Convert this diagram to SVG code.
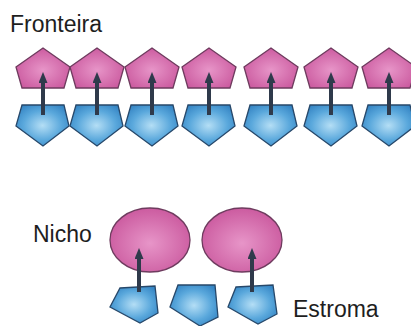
<svg xmlns="http://www.w3.org/2000/svg" width="411" height="326" viewBox="0 0 411 326">
<defs>
<radialGradient id="gPink" cx="0.5" cy="0.55" r="0.6">
<stop offset="0" stop-color="#e795c8"/>
<stop offset="1" stop-color="#c9569c"/>
</radialGradient>
<radialGradient id="gBlue" cx="0.5" cy="0.5" r="0.6">
<stop offset="0" stop-color="#b4def5"/>
<stop offset="0.6" stop-color="#5aa8dc"/>
<stop offset="1" stop-color="#3585c4"/>
</radialGradient>
<marker id="ah" viewBox="0 0 11 9" markerWidth="11" markerHeight="9" refX="3" refY="4.5" orient="auto" markerUnits="userSpaceOnUse">
<path d="M0,0 L11,4.5 L0,9 z" fill="#2f3a4b"/>
</marker>
<polygon id="pp" points="0,48 -27,67 -21,88 21,88 27,67"/>
<polygon id="bp" points="-21,105 21,105 26,126 0,146 -27,126"/>
</defs>
<style>
.pink{fill:url(#gPink);stroke:#6e3b5e;stroke-width:1.3}
.blue{fill:url(#gBlue);stroke:#27486a;stroke-width:1.3}
.lbl{font-family:"Liberation Sans",Arial,sans-serif;font-size:23px;fill:#1e1e1e}
.arr{stroke:#2f3a4b;stroke-width:4;fill:none;marker-end:url(#ah)}
</style>
<rect width="411" height="326" fill="#ffffff"/>
<text class="lbl" x="10" y="32">Fronteira</text>
<text class="lbl" x="33" y="242">Nicho</text>
<text class="lbl" x="293" y="317">Estroma</text>
<g id="f1p"><use href="#pp" class="pink" x="43"/></g>
<g id="f2p"><use href="#pp" class="pink" x="97"/></g>
<g id="f3p"><use href="#pp" class="pink" x="152"/></g>
<g id="f4p"><use href="#pp" class="pink" x="209"/></g>
<g id="f5p"><use href="#pp" class="pink" x="271"/></g>
<g id="f6p"><use href="#pp" class="pink" x="331"/></g>
<g id="f7p"><use href="#pp" class="pink" x="389"/></g>
<g id="f1b"><use href="#bp" class="blue" x="43"/></g>
<g id="f2b"><use href="#bp" class="blue" x="97"/></g>
<g id="f3b"><use href="#bp" class="blue" x="152"/></g>
<g id="f4b"><use href="#bp" class="blue" x="209"/></g>
<g id="f5b"><use href="#bp" class="blue" x="271"/></g>
<g id="f6b"><use href="#bp" class="blue" x="331"/></g>
<g id="f7b"><use href="#bp" class="blue" x="389"/></g>
<g id="n1"><ellipse class="pink" cx="150" cy="240" rx="40" ry="32"/></g>
<g id="n2"><ellipse class="pink" cx="242" cy="240" rx="40" ry="32"/></g>
<g id="s1"><polygon class="blue" points="120,288 155,286 158,313 140,323 110,307"/></g>
<g id="s2"><polygon class="blue" points="178,285 215,285 218,317 200,326 170,307"/></g>
<g id="s3"><polygon class="blue" points="236,287 273,285 277,314 258,324 228,307"/></g>
<g id="connectors">
<line class="arr" x1="43" y1="115" x2="43" y2="80"/>
<line class="arr" x1="97" y1="115" x2="97" y2="80"/>
<line class="arr" x1="152" y1="115" x2="152" y2="80"/>
<line class="arr" x1="209" y1="115" x2="209" y2="80"/>
<line class="arr" x1="271" y1="115" x2="271" y2="80"/>
<line class="arr" x1="331" y1="115" x2="331" y2="80"/>
<line class="arr" x1="389" y1="115" x2="389" y2="80"/>
<line class="arr" x1="139" y1="292" x2="139" y2="256"/>
<line class="arr" x1="252" y1="292" x2="252" y2="256"/>
</g>
</svg>
